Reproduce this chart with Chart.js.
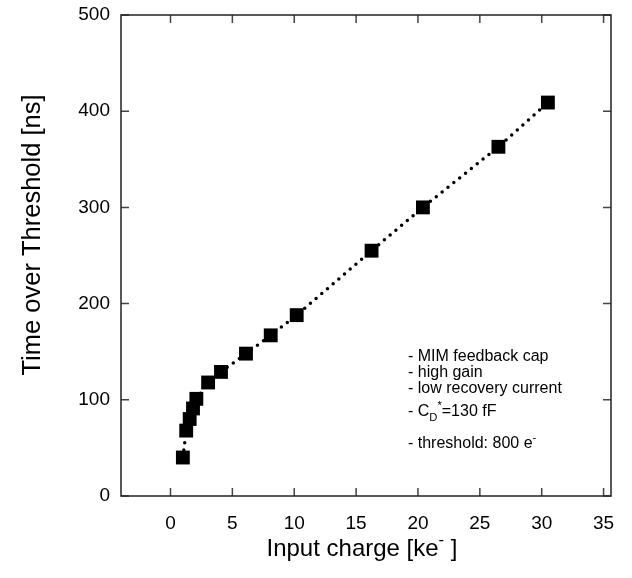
<!DOCTYPE html>
<html>
<head>
<meta charset="utf-8">
<script src="https://cdn.jsdelivr.net/npm/chart.js@4.4.1/dist/chart.umd.min.js"></script>
<style>
  html, body { margin: 0; padding: 0; background: #fff; }
  #wrap { width: 632px; height: 578px; }
</style>
</head>
<body>
<div id="wrap"><canvas id="totChart" width="632" height="578"></canvas></div>
<script>
// measured points: input charge [ke-] and time over threshold [ns]
const charge = [1.0, 1.27, 1.55, 1.82, 2.09, 3.04, 4.08, 6.1, 8.1, 10.2, 16.25, 20.4, 26.5, 30.5];
const tot = [40, 68, 80, 91, 101, 118, 129, 148, 167, 188, 255, 300, 363, 409];

// axis ticks
const xTicks = [0, 5, 10, 15, 20, 25, 30, 35];
const yTicks = [0, 100, 200, 300, 400, 500];

// axis titles, as [text, mode] pieces (mode: "", "sub" or "sup")
const xTitle = [["Input charge [ke", ""], ["-", "sup"], [" ]", ""]];
const yTitle = [["Time over Threshold [ns]", ""]];

// text box inside the plot
const noteLines = [
  [["- MIM feedback cap", ""]],
  [["- high gain", ""]],
  [["- low recovery current", ""]],
  [["- C", ""], ["D", "sub"], ["*", "sup"], ["=130 fF", ""]],
  [["- threshold: 800 e", ""], ["-", "sup"]],
];

const FONT = "'Liberation Sans', Arial, Helvetica, sans-serif";

// draws a line of text with sub/superscript pieces, left aligned
function drawRich(ctx, pieces, x, y, size) {
  ctx.textBaseline = "middle";
  ctx.textAlign = "left";
  pieces.forEach(function (p) {
    let s = size, dy = 0;
    if (p[1] === "sub") { s = size * 0.7; dy = size * 0.35; }
    if (p[1] === "sup") { s = size * 0.7; dy = -size * 0.38; }
    ctx.font = s + "px " + FONT;
    ctx.fillText(p[0], x, y + dy);
    x += ctx.measureText(p[0]).width;
  });
}

function richWidth(ctx, pieces, size) {
  let w = 0;
  pieces.forEach(function (p) {
    const s = p[1] ? size * 0.7 : size;
    ctx.font = s + "px " + FONT;
    w += ctx.measureText(p[0]).width;
  });
  return w;
}

// frame with inward ticks on all four sides
const framePlugin = {
  id: "frame",
  beforeDatasetsDraw(chart) {
    const ctx = chart.ctx;
    const a = chart.chartArea;
    const xs = chart.scales.x;
    const ys = chart.scales.y;
    const tick = 8;
    ctx.save();
    ctx.strokeStyle = "#444";
    ctx.lineWidth = 1.5;
    xTicks.forEach(function (v) {
      const px = xs.getPixelForValue(v);
      ctx.beginPath();
      ctx.moveTo(px, a.bottom); ctx.lineTo(px, a.bottom - tick);
      ctx.moveTo(px, a.top); ctx.lineTo(px, a.top + tick);
      ctx.stroke();
    });
    yTicks.forEach(function (v) {
      const py = ys.getPixelForValue(v);
      ctx.beginPath();
      ctx.moveTo(a.left, py); ctx.lineTo(a.left + tick, py);
      ctx.moveTo(a.right, py); ctx.lineTo(a.right - tick, py);
      ctx.stroke();
    });
    ctx.strokeStyle = "#222";
    ctx.strokeRect(a.left, a.top, a.right - a.left, a.bottom - a.top);
    ctx.restore();
  },
  afterDraw(chart) {
    const ctx = chart.ctx;
    const a = chart.chartArea;
    ctx.save();
    ctx.fillStyle = "#000";

    // x title
    const xw = richWidth(ctx, xTitle, 24);
    drawRich(ctx, xTitle, (a.left + a.right) / 2 - xw / 2 - 4, 549, 24);

    // y title, rotated
    ctx.translate(33, 235);
    ctx.rotate(-Math.PI / 2);
    const yw = richWidth(ctx, yTitle, 25.5);
    drawRich(ctx, yTitle, -yw / 2, 0, 25.5);
    ctx.setTransform(1, 0, 0, 1, 0, 0);

    // notes
    const noteY = [357, 373, 389, 412, 444];
    noteLines.forEach(function (line, i) {
      drawRich(ctx, line, 408, noteY[i], 16);
    });
    ctx.restore();
  },
};

const tickFont = { family: FONT, size: 19 };

new Chart(document.getElementById("totChart").getContext("2d"), {
  type: "line",
  data: {
    datasets: [
      {
        data: charge.map((c, i) => ({ x: c, y: tot[i] })),
        borderColor: "#000",
        borderWidth: 3.5,
        borderDash: [0, 7.5],
        borderCapStyle: "round",
        tension: 0,
        pointStyle: "rect",
        pointRadius: 9.8,
        pointBackgroundColor: "#000",
        pointBorderWidth: 0,
        clip: false,
      },
    ],
  },
  options: {
    responsive: false,
    animation: false,
    layout: { padding: { top: 15, right: 21, left: 0, bottom: 0 } },
    plugins: {
      legend: { display: false },
      tooltip: { enabled: false },
    },
    scales: {
      x: {
        type: "linear",
        min: -4,
        max: 35.6,
        afterBuildTicks: (s) => { s.ticks = xTicks.map((v) => ({ value: v })); },
        afterFit: (s) => { s.height = 82; },
        grid: { display: false },
        border: { display: false },
        ticks: { color: "#000", font: tickFont, padding: 8, maxRotation: 0 },
      },
      y: {
        type: "linear",
        min: 0,
        max: 500,
        afterBuildTicks: (s) => { s.ticks = yTicks.map((v) => ({ value: v })); },
        afterFit: (s) => { s.width = 121; },
        grid: { display: false },
        border: { display: false },
        ticks: { color: "#000", font: tickFont, padding: 3 },
      },
    },
  },
  plugins: [framePlugin],
});
</script>
</body>
</html>
